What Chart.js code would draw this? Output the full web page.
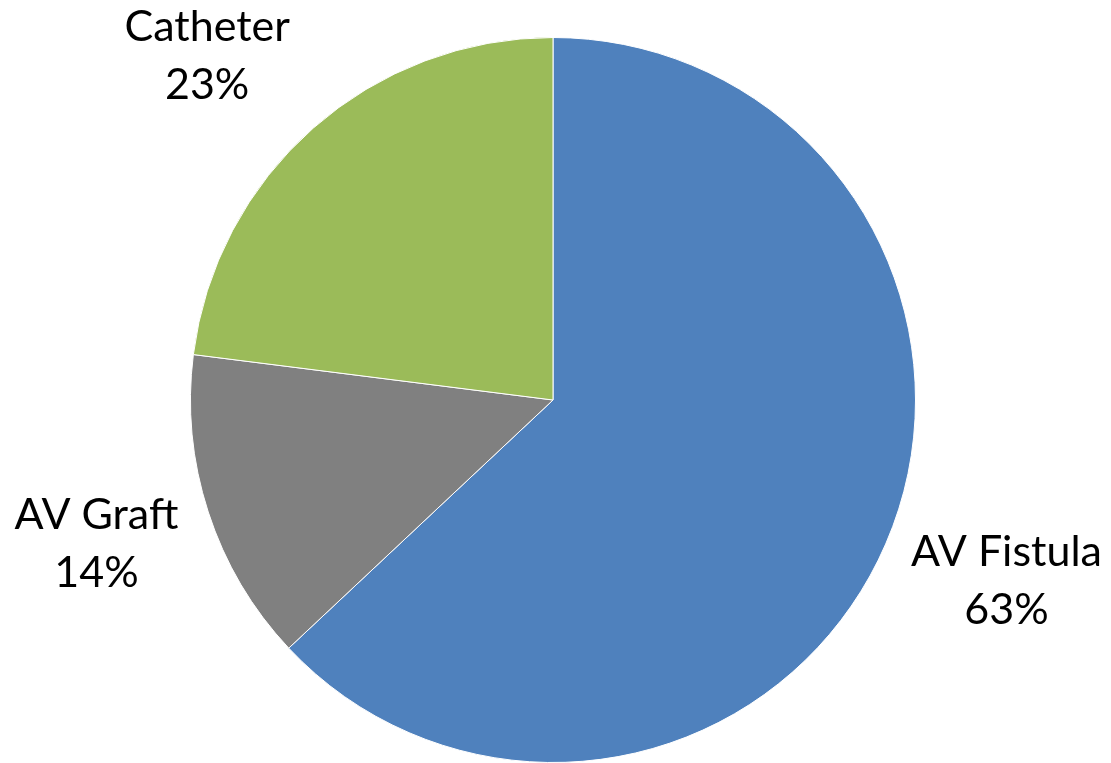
<!DOCTYPE html>
<html>
<head>
<meta charset="utf-8">
<script src="https://cdn.jsdelivr.net/npm/chart.js@4/dist/chart.umd.min.js"></script>
<style>
html,body{margin:0;padding:0;background:#fff;}
#wrap{width:1111px;height:763px;position:relative;}
</style>
</head>
<body>
<div id="wrap"><canvas id="c" width="1111" height="763"></canvas></div>
<script>
const categories = ["AV Fistula", "AV Graft", "Catheter"];
const values = [63, 14, 23];
const colors = ["#4F81BD", "#808080", "#9BBB59"];

const labelPlugin = {
  id: 'outLabels',
  afterDatasetsDraw(chart, args, opts) {
    const ctx = chart.ctx;
    const meta = chart.getDatasetMeta(0);
    const total = values.reduce((a, b) => a + b, 0);
    const adj = opts.adjust || [];
    ctx.save();
    ctx.font = '43px Lato, "Open Sans", sans-serif';
    ctx.fillStyle = '#000';
    ctx.textAlign = 'center';
    ctx.textBaseline = 'middle';
    meta.data.forEach((arc, i) => {
      const mid = (arc.startAngle + arc.endAngle) / 2;
      const r = arc.outerRadius * 1.33;
      const a = adj[i] || [0, 0];
      const x = arc.x + Math.cos(mid) * r + a[0];
      const y = arc.y + Math.sin(mid) * r + a[1];
      const pct = Math.round(values[i] / total * 100) + '%';
      ctx.fillText(categories[i], x, y - 29);
      ctx.fillText(pct, x, y + 29);
    });
    ctx.restore();
  }
};

new Chart(document.getElementById('c'), {
  type: 'pie',
  data: {
    labels: categories,
    datasets: [{
      data: values,
      backgroundColor: colors,
      borderColor: '#ffffff',
      borderWidth: 1
    }]
  },
  options: {
    responsive: false,
    animation: false,
    layout: { padding: { top: 37, bottom: 0, left: 0, right: 5 } },
    plugins: {
      legend: { display: false },
      tooltip: { enabled: false },
      outLabels: { adjust: [[11, -10], [2, -5], [-27, 18]] }
    }
  },
  plugins: [labelPlugin]
});
</script>
</body>
</html>
